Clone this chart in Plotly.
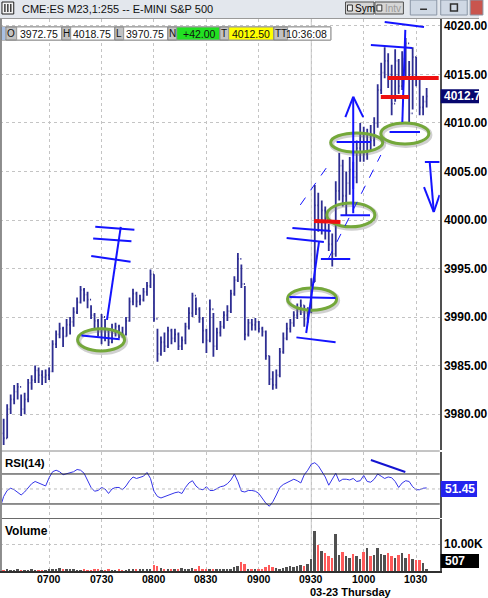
import plotly.graph_objects as go

W, H = 488, 598

# ---------------- data ----------------
bar_start = 392          # minutes after midnight of first bar (06:32)
bar_step = 2             # minutes per bar

opens = [3978.5, 3978.0, 3977.5, 3980.5, 3981.5, 3982.3, 3982.8, 3980.5, 3981.5, 3983.2,
         3983.5, 3984.5, 3984.0, 3983.8, 3984.0, 3984.4, 3987.2, 3988.2, 3988.8, 3988.0,
         3989.2, 3989.5, 3990.5, 3991.5, 3992.8, 3992.3, 3991.8, 3990.2, 3989.6, 3988.5,
         3990.0, 3988.6, 3987.4, 3988.4, 3989.0, 3988.4, 3988.2, 3989.6, 3991.6, 3992.4,
         3991.6, 3991.8, 3992.6, 3993.2, 3994.4, 3989.8, 3986.2, 3987.4, 3987.0, 3988.6,
         3987.8, 3988.2, 3987.0, 3987.6, 3989.0, 3990.4, 3992.2, 3990.8, 3989.8, 3988.6,
         3987.6, 3990.8, 3987.0, 3988.4, 3989.0, 3990.2, 3990.6, 3992.4, 3993.8, 3996.0,
         3993.4, 3988.2, 3989.4, 3989.2, 3989.5, 3988.8, 3988.5, 3986.0, 3983.6, 3983.0,
         3984.0, 3986.4, 3987.8, 3988.8, 3989.4, 3990.2, 3990.8, 3991.2, 3989.8, 3990.6,
         3993.6, 4001.5, 3999.8, 4001.0, 3999.0, 3997.5, 3996.5, 4003.0, 4005.6, 4002.5,
         4003.8, 4005.2, 4004.4, 4007.4, 4008.6, 4006.8, 4008.8, 4008.2, 4010.0, 4013.4,
         4015.2, 4016.4, 4015.0, 4012.0, 4016.4, 4013.8, 4016.6, 4018.2, 4011.0, 4016.8,
         4014.6, 4011.6, 4012.2]
highs = [3979.4, 3979.5, 3981.0, 3982.0, 3983.0, 3983.2, 3982.0, 3982.2, 3983.6, 3984.0,
         3985.0, 3984.8, 3984.5, 3984.6, 3984.8, 3987.6, 3988.6, 3989.4, 3989.0, 3989.8,
         3990.0, 3991.0, 3992.0, 3993.2, 3993.0, 3992.6, 3991.2, 3990.4, 3989.8, 3990.3,
         3989.8, 3988.8, 3989.3, 3989.4, 3989.2, 3989.0, 3990.0, 3992.0, 3992.9, 3992.6,
         3992.3, 3993.0, 3993.6, 3994.9, 3994.4, 3988.8, 3988.0, 3988.4, 3989.0, 3988.8,
         3988.8, 3988.4, 3988.0, 3989.4, 3991.0, 3992.5, 3992.0, 3991.0, 3990.0, 3988.8,
         3991.8, 3990.4, 3988.9, 3989.6, 3990.6, 3991.2, 3992.8, 3994.2, 3996.6, 3995.4,
         3993.2, 3989.8, 3989.8, 3989.9, 3989.6, 3989.0, 3988.6, 3986.0, 3984.4, 3984.6,
         3986.8, 3988.4, 3989.4, 3989.8, 3990.6, 3991.4, 3991.8, 3991.2, 3991.0, 3994.0,
         4003.6, 4002.8, 4002.0, 4001.4, 3999.6, 3998.6, 4004.0, 4006.9, 4006.2, 4005.0,
         4006.5, 4006.0, 4008.2, 4010.0, 4009.6, 4009.4, 4009.8, 4010.6, 4014.0, 4016.2,
         4017.8, 4017.2, 4016.0, 4017.6, 4016.6, 4017.4, 4018.75, 4016.4, 4017.8, 4016.8,
         4014.8, 4012.8, 4013.6]
lows = [3977.1, 3976.8, 3977.5, 3980.0, 3981.0, 3981.5, 3979.8, 3980.0, 3981.2, 3982.5,
        3983.2, 3983.2, 3983.0, 3983.2, 3983.5, 3984.3, 3986.8, 3987.8, 3986.9, 3988.0,
        3988.2, 3989.0, 3990.3, 3991.4, 3991.6, 3990.9, 3989.8, 3988.8, 3988.0, 3987.2,
        3987.5, 3987.0, 3987.3, 3988.0, 3987.8, 3987.9, 3988.1, 3989.5, 3991.2, 3991.0,
        3991.2, 3991.6, 3992.2, 3993.0, 3989.5, 3985.4, 3986.0, 3986.4, 3986.8, 3987.2,
        3987.4, 3986.6, 3986.6, 3987.2, 3988.7, 3990.0, 3990.2, 3989.4, 3987.3, 3986.3,
        3987.4, 3985.9, 3986.6, 3988.0, 3988.8, 3989.6, 3990.4, 3992.2, 3993.6, 3993.0,
        3987.6, 3988.0, 3988.6, 3988.6, 3988.4, 3988.0, 3985.6, 3983.0, 3982.5, 3982.6,
        3983.8, 3986.2, 3987.6, 3988.4, 3989.0, 3989.8, 3990.2, 3989.0, 3989.4, 3990.4,
        3993.6, 3998.8, 3998.5, 3998.0, 3996.8, 3995.2, 3996.2, 4002.0, 4001.4, 4000.4,
        4002.6, 4003.2, 4003.8, 4006.0, 4006.0, 4006.2, 4007.2, 4007.6, 4009.5, 4013.0,
        4014.6, 4013.6, 4010.8, 4012.2, 4013.0, 4013.4, 4014.8, 4010.1, 4011.4, 4013.8,
        4010.8, 4010.8, 4011.6]
closes = [3978.0, 3977.5, 3980.5, 3981.5, 3982.3, 3982.8, 3980.5, 3981.5, 3983.2, 3983.5,
          3984.5, 3984.0, 3983.8, 3984.0, 3984.4, 3987.2, 3988.2, 3988.8, 3988.0, 3989.2,
          3989.5, 3990.5, 3991.5, 3992.8, 3992.3, 3991.8, 3990.2, 3989.6, 3988.5, 3990.0,
          3988.6, 3987.4, 3988.4, 3989.0, 3988.4, 3988.2, 3989.6, 3991.6, 3992.4, 3991.6,
          3991.8, 3992.6, 3993.2, 3994.4, 3989.8, 3986.2, 3987.4, 3987.0, 3988.6, 3987.8,
          3988.2, 3987.0, 3987.6, 3989.0, 3990.4, 3992.2, 3990.8, 3989.8, 3988.6, 3987.6,
          3990.8, 3987.0, 3988.4, 3989.0, 3990.2, 3990.6, 3992.4, 3993.8, 3996.0, 3993.4,
          3988.2, 3989.4, 3989.2, 3989.5, 3988.8, 3988.5, 3986.0, 3983.6, 3983.0, 3984.0,
          3986.4, 3987.8, 3988.8, 3989.4, 3990.2, 3990.8, 3991.2, 3989.8, 3990.6, 3993.6,
          4001.5, 3999.8, 4001.0, 3999.0, 3997.5, 3996.5, 4003.0, 4005.6, 4002.5, 4003.8,
          4005.2, 4004.4, 4007.4, 4008.6, 4006.8, 4008.8, 4008.2, 4010.0, 4013.4, 4015.2,
          4016.4, 4015.0, 4012.0, 4016.4, 4013.8, 4016.6, 4018.2, 4011.0, 4016.8, 4014.6,
          4011.6, 4012.2, 4012.75]
volumes_k = [0.4, 0.3, 0.4, 0.3, 0.3, 0.4, 0.3, 0.3, 0.3, 0.4, 0.3, 0.3, 0.3, 0.3, 0.4,
             0.5, 0.4, 1.1, 0.5, 0.4, 0.4, 0.5, 0.3, 0.3, 0.4, 0.3, 0.3, 0.4, 0.4, 0.3,
             0.3, 0.4, 0.3, 0.3, 0.4, 0.3, 0.3, 0.4, 0.6, 0.5, 0.4, 0.6, 0.5, 0.8, 2.4,
             1.9, 1.2, 0.6, 0.5, 0.6, 0.4, 0.5, 1.0, 0.8, 0.5, 1.3, 0.7, 1.8, 0.9, 0.6,
             0.7, 0.6, 0.5, 0.5, 0.4, 0.6, 0.8, 1.6, 2.0, 3.5, 2.6, 0.9, 0.6, 0.5, 0.6,
             0.7, 1.5, 2.1, 1.6, 1.1, 0.9, 1.2, 1.4, 1.9, 1.6, 2.0, 2.3, 1.8, 2.5, 4.6,
             15.2, 9.9, 7.4, 6.8, 5.8, 5.0, 14.0, 6.2, 7.0, 5.5, 4.8, 6.5, 5.5, 4.5, 7.2,
             8.8, 5.5, 6.2, 8.6, 6.5, 6.0, 6.8, 5.5, 4.8, 6.0, 6.8, 5.0, 6.5, 4.5, 4.0,
             4.2, 3.0, 0.5]
rsi_values = [25, 40, 48, 51, 49, 45, 42, 46, 52, 57,
              60, 58, 55, 54, 65, 73, 75, 73, 69, 70,
              72, 73, 76, 75, 71, 62, 52, 47, 48, 52,
              50, 44, 50, 52, 52, 49, 54, 61, 66, 64,
              65, 67, 72, 64, 47, 40, 38, 40, 42, 44,
              45, 46, 44, 52, 58, 61, 54, 50, 49, 53,
              48, 48, 51, 53, 54, 57, 62, 70, 60, 47,
              46, 48, 48, 47, 44, 38, 31, 27, 33, 42,
              52, 56, 58, 60, 63, 61, 58, 69, 75, 83,
              85, 81, 74, 66, 55, 64, 71, 60, 63, 63,
              62, 64, 60, 61, 68, 60, 59, 63, 70, 67,
              64, 66, 65, 60, 52, 58, 61, 60, 53, 49,
              49, 51, 51.45]

time_labels = ["0700", "0730", "0800", "0830", "0900", "0930", "1000", "1030"]
price_ticks = [3980, 3985, 3990, 3995, 4000, 4005, 4010, 4015, 4020]
session_open = "0930"
date_label = "03-23 Thursday"
title_text = "CME:ES M23,1:255 -- E-MINI S&P 500"
quote_fields = [("O", "3972.75"), ("H", "4018.75"), ("L", "3970.75"),
                ("N", "+42.00"), ("T", "4012.50"), ("TT", "10:36:08")]
last_price = 4012.75
last_rsi = 51.45
last_volume = "507"
rsi_upper, rsi_lower, rsi_mid = 70, 30, 50
vol_grid = 10

# hand-drawn markings (time in minutes after midnight, price)
blue_lines = [
    (438.5, 3988.1, 460.4, 3987.7), (453.1, 3989.7, 461.0, 3999.3),
    (446.4, 3999.3, 468.8, 3999.0), (445.2, 3998.1, 467.1, 3997.8),
    (444.1, 3996.3, 466.6, 3995.7),
    (561.5, 3987.9, 583.9, 3987.4), (557.5, 3992.06, 583.9, 3991.96),
    (567.1, 3988.35, 574.4, 3997.73), (559.2, 3999.18, 581.1, 3998.87),
    (555.9, 3998.14, 577.2, 3997.73), (575.5, 3995.98, 592.3, 3995.98),
    (586.7, 4000.5, 603.6, 4000.5), (584.5, 4008.04, 604.1, 4008.04),
    (594.0, 4000.7, 594.0, 4012.7), (589.5, 4010.6, 594.0, 4012.7),
    (594.0, 4012.7, 599.7, 4010.6),
    (614.8, 4009.07, 632.2, 4009.07), (622.1, 4010.1, 623.8, 4019.6),
    (612.0, 4020.41, 634.5, 4019.9), (604.1, 4018.04, 627.7, 4017.73),
    (635.0, 4005.98, 643.4, 4005.98), (637.8, 4005.88, 640.1, 4000.82),
    (634.5, 4003.4, 640.1, 4000.82), (640.1, 4000.82, 643.4, 4002.58),
]
dashed_lines = [(563.7, 4001.55, 580.6, 4005.88), (580.0, 3996.08, 609.8, 4006.7)]
red_lines = [(571.6, 3999.9, 586.7, 3999.8), (613.7, 4014.64, 642.9, 4014.64),
             (609.8, 4012.68, 626.0, 4012.68)]
ellipses = [(436.3, 463.2, 3986.5, 3988.8), (556.4, 584.5, 3990.7, 3993.0),
            (578.9, 606.4, 3999.3, 4001.75), (581.1, 610.9, 4007.0, 4008.97),
            (609.8, 637.3, 4007.84, 4010.0)]
rsi_lines = [(604.1, 88.7, 623.8, 72.7)]

# ---------------- helpers ----------------
def hm(s):
    return int(s[:2]) * 60 + int(s[2:])

times = [bar_start + bar_step * i for i in range(len(closes))]
tick_vals = [hm(s) for s in time_labels]

def px(x):
    return x / W

def py(y):
    return 1 - y / H

X_RANGE = [391.9, 643.5]
PLOT_R = 448
FONT = "Liberation Sans"

fig = go.Figure()

fig.add_trace(go.Ohlc(
    x=times, open=opens, high=highs, low=lows, close=closes,
    increasing=dict(line=dict(color="#2e2e92", width=1.8)),
    decreasing=dict(line=dict(color="#2e2e92", width=1.8)),
    tickwidth=0.3, xaxis="x", yaxis="y", hoverinfo="skip"))

fig.add_trace(go.Scatter(
    x=times, y=rsi_values, mode="lines", line=dict(color="#3535e8", width=1),
    xaxis="x", yaxis="y2", hoverinfo="skip"))

vol_colors = ["#ff5a5a" if c < o else "#505050" for o, c in zip(opens, closes)]
fig.add_trace(go.Bar(
    x=times, y=volumes_k, marker=dict(color=vol_colors, line=dict(width=0)),
    width=1.1, xaxis="x", yaxis="y3", hoverinfo="skip"))

grid = dict(showgrid=True, gridcolor="#c4c4c4", griddash="dot", gridwidth=1)

fig.update_layout(
    width=W, height=H, margin=dict(l=0, r=0, t=0, b=0),
    paper_bgcolor="white", plot_bgcolor="white", showlegend=False,
    bargap=0,
    xaxis=dict(domain=[0, PLOT_R / W], range=X_RANGE, anchor="y3",
               tickvals=tick_vals, showticklabels=False, ticks="",
               showline=True, linecolor="#303030", linewidth=2,
               rangeslider=dict(visible=False), zeroline=False, **grid),
    yaxis=dict(domain=[py(450), py(19)], range=[3976.29, 4020.72], anchor="x",
               side="right", tickvals=price_ticks,
               ticktext=[f"{v:.2f}" for v in price_ticks], ticks="",
               tickfont=dict(family=FONT, size=12, color="black", weight="bold"),
               showline=True, linecolor="#505050", linewidth=1.5, zeroline=False,
               **grid),
    yaxis2=dict(domain=[py(518), py(452)], range=[11.3, 99.3], anchor="x",
                side="right", showticklabels=False, ticks="", showgrid=False,
                showline=True, linecolor="#505050", linewidth=1.5, zeroline=False),
    yaxis3=dict(domain=[py(571), py(519)], range=[0, 19.6], anchor="x",
                side="right", showticklabels=False, ticks="", tickvals=[vol_grid],
                showline=True, linecolor="#505050", linewidth=1.5, zeroline=False,
                **grid),
)

shapes = []
ann = []

# session open line
shapes.append(dict(type="line", xref="x", yref="paper", x0=hm(session_open),
                   x1=hm(session_open), y0=py(571), y1=py(19),
                   line=dict(color="#c8c8c8", width=1), layer="below"))
# RSI reference lines
for lvl, col, dash in [(rsi_upper, "#202020", "solid"), (rsi_lower, "#202020", "solid"),
                       (rsi_mid, "#bdbdbd", "dot")]:
    shapes.append(dict(type="line", xref="paper", yref="y2", x0=0, x1=PLOT_R / W,
                       y0=lvl, y1=lvl, line=dict(color=col, width=1, dash=dash)))
# panel separators
for yy, col in [(451, "#8a8a8a"), (518.5, "#6a6a6a")]:
    shapes.append(dict(type="line", xref="paper", yref="paper", x0=0, x1=PLOT_R / W,
                       y0=py(yy), y1=py(yy), line=dict(color=col, width=1)))
# left border
shapes.append(dict(type="rect", xref="paper", yref="paper", x0=0, x1=px(2),
                   y0=py(571), y1=py(19), fillcolor="#8c8c8c", line=dict(width=0)))

# hand drawings
for e in ellipses:
    shapes.append(dict(type="circle", xref="x", yref="y", x0=e[0] + 0.6, x1=e[1] + 0.6,
                       y0=e[2] - 0.15, y1=e[3] - 0.15,
                       line=dict(color="rgba(120,120,120,0.35)", width=5)))
    shapes.append(dict(type="circle", xref="x", yref="y", x0=e[0], x1=e[1],
                       y0=e[2], y1=e[3], line=dict(color="#74a83a", width=3)))
for l in blue_lines:
    shapes.append(dict(type="line", xref="x", yref="y", x0=l[0], y0=l[1], x1=l[2],
                       y1=l[3], line=dict(color="#1414ff", width=2)))
for l in dashed_lines:
    shapes.append(dict(type="line", xref="x", yref="y", x0=l[0], y0=l[1], x1=l[2],
                       y1=l[3], line=dict(color="#1414ff", width=1, dash="dash")))
for l in red_lines:
    shapes.append(dict(type="line", xref="x", yref="y", x0=l[0], y0=l[1], x1=l[2],
                       y1=l[3], line=dict(color="#ee1010", width=4)))
for l in rsi_lines:
    shapes.append(dict(type="line", xref="x", yref="y2", x0=l[0], y0=l[1], x1=l[2],
                       y1=l[3], line=dict(color="#1414d0", width=2)))

# ---- window title bar ----
shapes.append(dict(type="rect", xref="paper", yref="paper", x0=0, x1=1, y0=py(18.5),
                   y1=1, fillcolor="#e3e7ed", line=dict(width=0), layer="above"))
shapes.append(dict(type="line", xref="paper", yref="paper", x0=0, x1=1, y0=py(18.5),
                   y1=py(18.5), line=dict(color="#9a9a9a", width=1), layer="above"))
shapes.append(dict(type="rect", xref="paper", yref="paper", x0=px(2), x1=px(14),
                   y0=py(14), y1=py(2), fillcolor="#f4f4f4",
                   line=dict(color="#202020", width=1), layer="above"))
for xx in [5, 8, 11]:
    shapes.append(dict(type="line", xref="paper", yref="paper", x0=px(xx), x1=px(xx),
                       y0=py(12), y1=py(4), line=dict(color="#202020", width=1.3),
                       layer="above"))
ann.append(dict(text=title_text, x=px(20), y=py(9), xref="paper", yref="paper",
                xanchor="left", yanchor="middle", showarrow=False,
                font=dict(family=FONT, size=11, color="#101010")))
for x0, x1, label, col in [(352, 381, "Sym", "#000000"), (382, 411, "Intv", "#9a9a9a")]:
    shapes.append(dict(type="rect", xref="paper", yref="paper", x0=px(x0), x1=px(x1),
                       y0=py(14), y1=py(2), fillcolor="#d6d6d6",
                       line=dict(color="#505050", width=1), layer="above"))
    shapes.append(dict(type="rect", xref="paper", yref="paper", x0=px(x0 + 2),
                       x1=px(x0 + 7), y0=py(11), y1=py(5), fillcolor="#f0f0f0",
                       line=dict(color="#303030", width=1), layer="above"))
    ann.append(dict(text=label, x=px(x0 + 8), y=py(8.5), xref="paper", yref="paper",
                    xanchor="left", yanchor="middle", showarrow=False,
                    font=dict(family=FONT, size=10, color=col)))
for x0, x1, col in [(418, 445, "#cfd8e4"), (449, 476, "#cfd8e4"), (479, 492, "#c9554e")]:
    shapes.append(dict(type="rect", xref="paper", yref="paper", x0=px(x0), x1=px(x1),
                       y0=py(15), y1=py(0), fillcolor=col,
                       line=dict(color="#8a96a6", width=1), layer="above"))
shapes.append(dict(type="rect", xref="paper", yref="paper", x0=px(428), x1=px(435),
                   y0=py(10), y1=py(8.5), fillcolor="#303030", line=dict(width=0),
                   layer="above"))
shapes.append(dict(type="rect", xref="paper", yref="paper", x0=px(459), x1=px(466),
                   y0=py(11), y1=py(4), fillcolor="rgba(0,0,0,0)",
                   line=dict(color="#303030", width=1.5), layer="above"))

# ---- quote bar ----
cell_fill = {"N": "#22e022", "T": "#ffff00"}
shapes.append(dict(type="rect", xref="paper", yref="paper", x0=px(2), x1=px(337),
                   y0=py(40), y1=py(27), fillcolor="white",
                   line=dict(color="#707070", width=1), layer="above"))
shapes.append(dict(type="rect", xref="paper", yref="paper", x0=px(2), x1=px(5.5),
                   y0=py(40), y1=py(27), fillcolor="#a9c0e4", line=dict(width=0),
                   layer="above"))
cell_edges = [(6, 17, 63), (63, 72, 117), (117, 126, 171), (171, 180, 224),
              (224, 233, 279), (279, 293, 337)]
for (lab, val), (a, b, c) in zip(quote_fields, cell_edges):
    shapes.append(dict(type="rect", xref="paper", yref="paper", x0=px(a), x1=px(b),
                       y0=py(40), y1=py(27), fillcolor="#c2c2c2",
                       line=dict(color="#808080", width=1), layer="above"))
    shapes.append(dict(type="rect", xref="paper", yref="paper", x0=px(b), x1=px(c),
                       y0=py(40), y1=py(27), fillcolor=cell_fill.get(lab, "white"),
                       line=dict(color="#9a9a9a", width=1), layer="above"))
    ann.append(dict(text=lab, x=px((a + b) / 2), y=py(33.5), xref="paper", yref="paper",
                    xanchor="center", yanchor="middle", showarrow=False,
                    font=dict(family=FONT, size=10, color="#101010")))
    ann.append(dict(text=val, x=px(c - 1.5), y=py(33.5), xref="paper", yref="paper",
                    xanchor="right", yanchor="middle", showarrow=False,
                    font=dict(family=FONT, size=10.5, color="#101010")))

# ---- right-side value labels ----
shapes.append(dict(type="rect", xref="paper", yref="y", x0=px(449), x1=1,
                   y0=last_price - 0.72, y1=last_price + 0.72, fillcolor="#07076e",
                   line=dict(width=0)))
ann.append(dict(text=f"{last_price:.2f}", x=px(450), y=last_price, xref="paper",
                yref="y", xanchor="left", yanchor="middle", showarrow=False,
                font=dict(family=FONT, size=12, color="white", weight="bold")))
shapes.append(dict(type="rect", xref="paper", yref="paper", x0=px(449), x1=px(486),
                   y0=py(497), y1=py(481), fillcolor="#2424ee", line=dict(width=0)))
ann.append(dict(text=f"{last_rsi:.2f}", x=px(451), y=py(489), xref="paper",
                yref="paper", xanchor="left", yanchor="middle", showarrow=False,
                font=dict(family=FONT, size=12, color="white", weight="bold")))
ann.append(dict(text=f"{vol_grid:.2f}K", x=px(450), y=vol_grid, xref="paper",
                yref="y3", xanchor="left", yanchor="middle", showarrow=False,
                font=dict(family=FONT, size=12, color="black", weight="bold")))
shapes.append(dict(type="rect", xref="paper", yref="paper", x0=px(449), x1=1,
                   y0=py(568), y1=py(554), fillcolor="black", line=dict(width=0)))
ann.append(dict(text=last_volume, x=px(451), y=py(561), xref="paper",
                yref="paper", xanchor="left", yanchor="middle", showarrow=False,
                font=dict(family=FONT, size=12, color="white", weight="bold")))

# ---- time axis labels ----
for lab, tv in zip(time_labels, tick_vals):
    ann.append(dict(text=lab, x=tv, y=py(578.5), xref="x", yref="paper",
                    xanchor="center", yanchor="middle", showarrow=False,
                    font=dict(family=FONT, size=10.5, color="black", weight="bold")))
ann.append(dict(text=date_label, x=px(358), y=py(591.5), xref="paper", yref="paper",
                xanchor="center", yanchor="middle", showarrow=False,
                font=dict(family=FONT, size=11, color="black", weight="bold")))

# ---- panel titles ----
ann.append(dict(text="RSI(14)", x=px(3), y=py(463), xref="paper", yref="paper",
                xanchor="left", yanchor="middle", showarrow=False,
                font=dict(family=FONT, size=11.5, color="black", weight="bold")))
ann.append(dict(text="Volume", x=px(3), y=py(531), xref="paper", yref="paper",
                xanchor="left", yanchor="middle", showarrow=False,
                font=dict(family=FONT, size=12, color="black", weight="bold")))

fig.update_layout(shapes=shapes, annotations=ann)
fig.write_html("out.html", config={"displayModeBar": False},
               post_script="document.body.style.margin='0';"
                           "document.body.style.overflow='hidden';")
